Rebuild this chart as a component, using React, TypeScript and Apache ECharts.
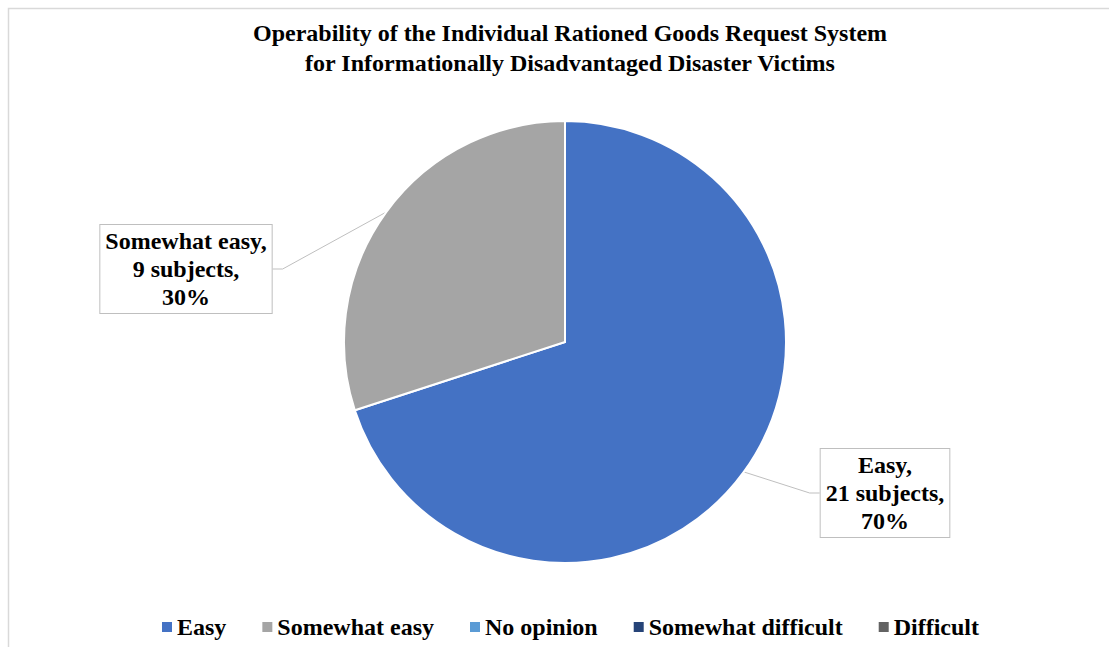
import React, { useEffect, useRef } from "react";
import * as echarts from "echarts";

const categories = ["Easy", "Somewhat easy", "No opinion", "Somewhat difficult", "Difficult"];
const subjects = [21, 9, 0, 0, 0];
const percents = ["70%", "30%", "0%", "0%", "0%"];
const colors = ["#4472C4", "#A5A5A5", "#5B9BD5", "#264478", "#636363"];
const titleLines = [
  "Operability of the Individual Rationed Goods Request System",
  "for Informationally Disadvantaged Disaster Victims",
];

const FONT = "'Liberation Serif', 'Times New Roman', serif";

export default function App() {
  const ref = useRef<HTMLDivElement>(null);
  useEffect(() => {
    if (!ref.current) return;
    const chart = echarts.init(ref.current, undefined, { renderer: "svg" });
    const labelPos: Record<number, { x: number; y: number }> = {
      0: { x: 885, y: 493 },
      1: { x: 186, y: 269 },
    };
    chart.setOption({
      animation: false,
      backgroundColor: "#ffffff",
      title: {
        text: titleLines.join("\n"),
        left: 565,
        textAlign: "center",
        top: 13,
        textStyle: {
          fontFamily: FONT,
          fontWeight: "bold",
          fontSize: 24,
          lineHeight: 30,
          color: "#000000",
        },
      },
      graphic: [
        {
          type: "rect",
          shape: { x: 8.5, y: 8.5, width: 1200, height: 800 },
          style: { fill: "none", stroke: "#d9d9d9", lineWidth: 1.5 },
          silent: true,
        },
      ],
      legend: {
        bottom: 3,
        left: 155,
        itemWidth: 12,
        itemHeight: 12,
        itemGap: 34,
        icon: "rect",
        textStyle: {
          fontFamily: FONT,
          fontWeight: "bold",
          fontSize: 24,
          color: "#000000",
          padding: [0, 0, 0, -1],
        },
        data: categories,
      },
      series: [
        {
          type: "pie",
          center: [565, 342],
          radius: [0, 221],
          startAngle: 90,
          clockwise: true,
          avoidLabelOverlap: false,
          itemStyle: { borderColor: "#ffffff", borderWidth: 2 },
          label: {
            show: true,
            position: "outside",
            formatter: (p: any) =>
              `${p.name},\n${p.value} subjects,\n${percents[p.dataIndex]}`,
            fontFamily: FONT,
            fontWeight: "bold",
            fontSize: 24,
            lineHeight: 28,
            color: "#000000",
            align: "center",
            backgroundColor: "#ffffff",
            borderColor: "#bfbfbf",
            borderWidth: 1,
            padding: [2, 5, 2, 5],
          },
          labelLine: {
            show: true,
            lineStyle: { color: "#bfbfbf", width: 1 },
            length: 10,
            length2: 10,
          },
          labelLayout: (params: any) => {
            const pos = labelPos[params.dataIndex];
            if (!pos) return {};
            return { x: pos.x, y: pos.y, align: "center", verticalAlign: "middle" };
          },
          data: categories.map((c, i) => ({
            name: c,
            value: subjects[i],
            itemStyle: { color: colors[i] },
            label: subjects[i] === 0 ? { show: false } : undefined,
            labelLine: subjects[i] === 0 ? { show: false } : undefined,
          })),
        },
      ],
    });
    return () => chart.dispose();
  }, []);
  return (
    <div
      ref={ref}
      style={{ position: "absolute", left: 0, top: 0, width: 1109, height: 647 }}
    />
  );
}
